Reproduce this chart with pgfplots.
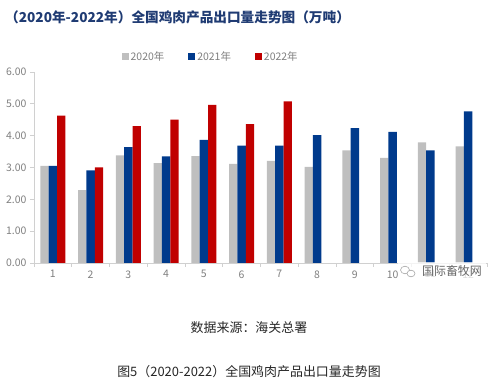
\documentclass[border=0pt]{standalone}
\usepackage{fontspec}
\setmainfont{Noto Sans CJK SC}
\usepackage{pgfplots}
\pgfplotsset{compat=1.18}
\definecolor{c20}{HTML}{BFBFBF}
\definecolor{c21}{HTML}{003A8C}
\definecolor{c22}{HTML}{C00000}
\definecolor{axg}{HTML}{D0D0D0}
\definecolor{tickg}{HTML}{7F7F7F}
\definecolor{titleblue}{HTML}{1F3B73}
\begin{document}
\begin{tikzpicture}
\useasboundingbox (0bp,0bp) rectangle (504bp,392bp);
\node[anchor=west, font=\fontsize{13.7}{16}\selectfont\bfseries, text=titleblue, inner sep=0] at (5bp,375bp) {（2020年-2022年）全国鸡肉产品出口量走势图（万吨）};
\begin{axis}[
  at={(34bp,129bp)}, anchor=south west, scale only axis,
  width=453bp, height=191bp,
  xmin=0.5, xmax=12.5, ymin=0, ymax=6,
  ybar=0pt, bar width=8.3bp,
  axis x line*=bottom, axis y line*=left,
  axis line style={axg, line width=0.8pt, -},
  xtick={1,...,12}, minor xtick={0.5,1.5,...,12.5},
  ytick={0,1,...,6},
  tick align=outside, major tick length=4bp, minor tick length=4bp,
  tick style={axg, line width=0.8pt},
  major x tick style={draw=none},
  /pgf/number format/assume math mode=true,
  yticklabel style={/pgf/number format/fixed, /pgf/number format/fixed zerofill, /pgf/number format/precision=2},
  ticklabel style={font=\fontsize{10.5}{12}\selectfont, text=tickg},
  legend style={draw=none, fill=none, at={(0.39,1.079)}, anchor=center,
    font=\fontsize{10.5}{12}\selectfont, text=tickg,
    /tikz/every even column/.append style={column sep=22bp}},
  legend columns=3,
  legend image code/.code={\fill[#1] (0bp,-3.5bp) rectangle (7bp,3.5bp);},
  clip=false,
]
\addplot[fill=c20, draw=none] coordinates {(1,3.05) (2,2.29) (3,3.38) (4,3.14) (5,3.36) (6,3.11) (7,3.21) (8,3.02) (9,3.54) (10,3.30) (11,3.79) (12,3.66)};
\addplot[fill=c21, draw=none] coordinates {(1,3.05) (2,2.91) (3,3.64) (4,3.35) (5,3.87) (6,3.69) (7,3.69) (8,4.02) (9,4.24) (10,4.12) (11,3.54) (12,4.76)};
\addplot[fill=c22, draw=none] coordinates {(1,4.63) (2,3.00) (3,4.30) (4,4.50) (5,4.97) (6,4.36) (7,5.08)};
\legend{2020年,2021年,2022年}
\end{axis}
\fill[white, opacity=0.75] (398bp,112bp) rectangle (486bp,130bp);
\draw[black!35, line width=0.6pt] (405bp,122bp) ellipse (4.5bp and 3.8bp);
\draw[black!35, line width=0.6pt, fill=white] (411bp,118.5bp) ellipse (4bp and 3.3bp);
\node[font=\fontsize{12}{14}\selectfont, text=black!60, inner sep=1bp] at (452bp,121bp) {国际畜牧网};
\node[font=\fontsize{13}{15}\selectfont, text=black!85] at (249bp,64bp) {数据来源：海关总署};
\node[font=\fontsize{13}{15}\selectfont, text=black!85] at (249bp,20bp) {图5（2020-2022）全国鸡肉产品出口量走势图};
\end{tikzpicture}
\end{document}
